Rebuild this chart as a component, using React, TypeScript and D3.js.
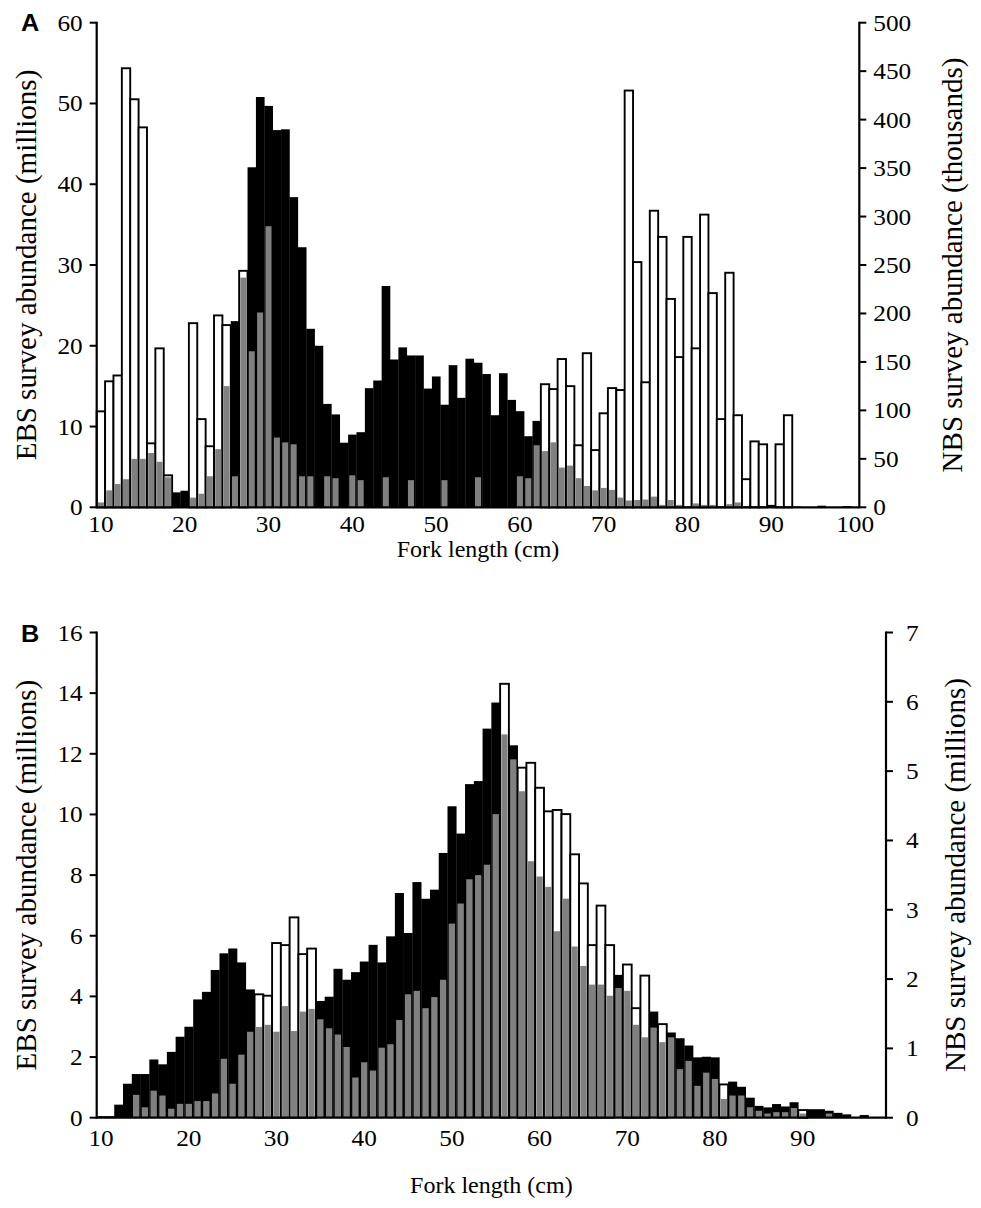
import React from 'react';
import * as d3 from 'd3';

// ---------- Panel A : bins 10..100 cm ----------
const binsA: number[] = d3.range(10, 101);
// EBS survey abundance (millions) - black bars, left axis
const ebsA: number[] = [
  0, 0, 0, 0, 0, 0, 0, 0, 0, 1.85,
  2.05, 0, 0, 0, 0, 0, 23.05, 0, 42.1, 50.8,
  49.7, 46.7, 46.8, 38.4, 32.2, 22.1, 20.0, 12.8, 11.5, 8.0,
  9.0, 9.3, 14.75, 15.7, 27.4, 18.3, 19.8, 18.8, 18.8, 14.7,
  16.2, 12.7, 17.6, 13.55, 18.4, 17.9, 16.5, 11.4, 16.6, 13.3,
  11.9, 8.8, 10.7, 0, 0, 0, 0, 0, 0, 0,
  0, 0, 0, 0, 0, 0, 0, 0, 0, 0,
  0, 0, 0, 0, 0, 0, 0, 0, 0, 0,
  0.3, 0, 0, 0.1, 0, 0, 0.2, 0, 0, 0.15,
  0,
];
// NBS survey abundance (thousands) - white bars, right axis
const nbsWhiteA: number[] = [
  99, 130, 136, 453, 421, 392, 66, 164, 33, 0,
  0, 190, 91, 63, 198, 188, 0, 244, 0, 0,
  0, 0, 0, 0, 0, 0, 0, 0, 0, 0,
  0, 0, 0, 0, 0, 0, 0, 0, 0, 0,
  0, 0, 0, 0, 0, 0, 0, 0, 0, 0,
  0, 0, 0, 127, 122, 153, 125, 64, 159, 59,
  97, 123, 121, 430, 253, 129, 306, 279, 215, 155,
  279, 164, 302, 221, 91, 242, 95, 29, 68, 65,
  0, 65, 95, 0, 0, 0, 0, 0, 0, 0,
  0,
];
// NBS survey abundance (thousands) - grey bars, right axis
const nbsGreyA: number[] = [
  5, 17.5, 24, 29, 50, 50, 56, 47, 31, 0,
  0, 10, 14, 32, 60, 125, 32, 237, 161, 201,
  290, 72, 67, 65, 32, 32, 0, 32, 30, 0,
  33, 28, 0, 0, 31, 0, 0, 28, 0, 0,
  0, 28, 0, 0, 0, 31, 0, 0, 0, 0,
  32, 30, 64, 58, 67, 41, 43, 30, 22, 17.5,
  20, 18, 10, 7, 7.5, 8, 11, 2.5, 7.5, 2.5,
  1.2, 4, 2.5, 2.5, 0, 3.3, 5, 0, 0, 0,
  0, 0, 0, 0, 0, 0, 0, 0, 0, 0,
  0,
];
const leftTicksA: number[] = [0, 10, 20, 30, 40, 50, 60];
const rightTicksA: number[] = [0, 50, 100, 150, 200, 250, 300, 350, 400, 450, 500];
const xLabelsA: number[] = [10, 20, 30, 40, 50, 60, 70, 80, 90, 100];

// ---------- Panel B : bins 10..99 cm ----------
const binsB: number[] = d3.range(10, 100);
const ebsB: number[] = [
  0.05, 0.05, 0.43, 1.12, 1.44, 1.44, 1.92, 1.76, 2.17, 2.67,
  3.0, 3.9, 4.15, 4.87, 5.42, 5.58, 5.12, 4.23, 0, 0,
  0, 0, 0, 0, 0, 3.85, 3.99, 4.91, 4.55, 4.8,
  5.15, 5.7, 5.12, 5.98, 7.41, 6.09, 7.77, 7.22, 7.52, 8.73,
  10.27, 9.37, 11.0, 11.1, 12.83, 13.69, 0, 12.28, 0, 0,
  0, 0, 0, 0, 0, 0, 0, 0, 0, 4.71,
  0, 0, 0, 3.5, 0, 2.81, 2.62, 2.38, 1.99, 2.01,
  1.99, 0, 1.19, 1.02, 0.66, 0.39, 0.34, 0.45, 0.37, 0.51,
  0, 0.28, 0.28, 0.23, 0.16, 0.11, 0, 0.09, 0, 0,
];
const nbsWhiteB: number[] = [
  0, 0, 0, 0, 0, 0, 0, 0, 0, 0,
  0, 0, 0, 0, 0, 0, 0, 0, 1.78, 1.76,
  2.52, 2.49, 2.89, 2.36, 2.44, 0, 0, 0, 0, 0,
  0, 0, 0, 0, 0, 0, 0, 0, 0, 0,
  0, 0, 0, 0, 0, 0, 6.26, 0, 5.05, 5.12,
  4.76, 4.42, 4.44, 4.38, 3.8, 3.38, 2.49, 3.06, 2.49, 0,
  2.21, 1.58, 2.05, 0, 1.35, 0, 0, 0, 0, 0,
  0, 0.48, 0, 0, 0, 0, 0, 0, 0, 0,
  0.11, 0, 0, 0, 0, 0, 0, 0, 0, 0,
];
const nbsGreyB: number[] = [
  0, 0, 0, 0, 0.33, 0.15, 0.39, 0.32, 0.13, 0.2,
  0.2, 0.24, 0.24, 0.35, 0.85, 0.49, 0.91, 1.24, 1.31, 1.34,
  1.24, 1.61, 1.25, 1.53, 1.57, 1.42, 1.29, 1.2, 1.02, 0.58,
  0.8, 0.68, 1.01, 1.06, 1.41, 1.78, 1.83, 1.58, 1.74, 1.99,
  2.8, 3.09, 3.44, 3.5, 3.65, 4.38, 5.53, 5.17, 4.71, 3.7,
  3.48, 3.33, 2.69, 3.16, 2.47, 2.19, 1.92, 1.92, 1.76, 1.87,
  1.83, 1.34, 1.16, 1.3, 1.09, 1.16, 0.7, 0.82, 0.46, 0.65,
  0.56, 0.27, 0.32, 0.32, 0.15, 0.1, 0.06, 0.08, 0.08, 0.14,
  0.06, 0, 0, 0.06, 0, 0, 0, 0, 0, 0,
];
const leftTicksB: number[] = [0, 2, 4, 6, 8, 10, 12, 14, 16];
const rightTicksB: number[] = [0, 1, 2, 3, 4, 5, 6, 7];
const xLabelsB: number[] = [10, 20, 30, 40, 50, 60, 70, 80, 90];

const FONT = "'Liberation Serif', 'Times New Roman', serif";
const SX = 1.1;

type PanelCfg = {
  letter: string;
  bins: number[];
  black: number[];
  white: number[];
  grey: number[];
  leftMax: number;
  rightMax: number;
  leftTicks: number[];
  rightTicks: number[];
  xLabels: number[];
  leftTitle: string;
  rightTitle: string;
  left: number;
  right: number;
  top: number;
  bottom: number;
  rightLabelGap: number;
  rightTitleX: number;
  xLabelDy: number;
  xTitleDy: number;
  letterY: number;
};

function Panel({ c }: { c: PanelCfg }) {
  const x = d3.scaleBand<number>().domain(c.bins).range([c.left, c.right]).padding(0);
  const yL = d3.scaleLinear().domain([0, c.leftMax]).range([c.bottom, c.top]);
  const yR = d3.scaleLinear().domain([0, c.rightMax]).range([c.bottom, c.top]);
  const bw = x.bandwidth();
  const gw = bw * 0.72;
  const midY = (c.top + c.bottom) / 2;
  const midX = (c.left + c.right) / 2;
  return (
    <g>
      {c.bins.map((b, i) =>
        c.black[i] > 0 ? (
          <rect key={'k' + b} x={x(b)} y={yL(c.black[i])} width={bw + 0.3} height={c.bottom - yL(c.black[i])} fill="#000" />
        ) : null
      )}
      {c.bins.map((b, i) =>
        c.white[i] > 0 ? (
          <rect key={'w' + b} x={x(b)} y={yR(c.white[i])} width={bw} height={c.bottom - yR(c.white[i])} fill="#fff" stroke="#000" strokeWidth={1.9} />
        ) : null
      )}
      {c.bins.map((b, i) =>
        c.grey[i] > 0 ? (
          <rect key={'g' + b} x={(x(b) as number) + (bw - gw) / 2} y={yR(c.grey[i])} width={gw} height={c.bottom - yR(c.grey[i])} fill="#808080" />
        ) : null
      )}
      <line x1={c.left} x2={c.left} y1={c.top - 1} y2={c.bottom + 1} stroke="#000" strokeWidth={2.2} />
      <line x1={c.right} x2={c.right} y1={c.top - 1} y2={c.bottom + 1} stroke="#000" strokeWidth={2.2} />
      <line x1={c.left} x2={c.right} y1={c.bottom} y2={c.bottom} stroke="#000" strokeWidth={2.2} />
      {c.leftTicks.map((t) => (
        <g key={'lt' + t}>
          <line x1={c.left - 7} x2={c.left} y1={yL(t)} y2={yL(t)} stroke="#000" strokeWidth={2} />
          <text transform={`translate(${c.left - 14},${yL(t) + 8}) scale(${SX},1)`} textAnchor="end" fontSize={23} fontFamily={FONT}>
            {t}
          </text>
        </g>
      ))}
      {c.rightTicks.map((t) => (
        <g key={'rt' + t}>
          <line x1={c.right} x2={c.right + 7} y1={yR(t)} y2={yR(t)} stroke="#000" strokeWidth={2} />
          <text transform={`translate(${c.right + c.rightLabelGap},${yR(t) + 8}) scale(${SX},1)`} textAnchor="start" fontSize={23} fontFamily={FONT}>
            {t}
          </text>
        </g>
      ))}
      {c.xLabels.map((t) => (
        <text key={'xl' + t} transform={`translate(${(x(t) as number) + bw / 2},${c.bottom + c.xLabelDy}) scale(${SX},1)`} textAnchor="middle" fontSize={23} fontFamily={FONT}>
          {t}
        </text>
      ))}
      <text transform={`translate(${midX},${c.bottom + c.xTitleDy})`} textAnchor="middle" fontSize={24} fontFamily={FONT}>
        Fork length (cm)
      </text>
      <text transform={`translate(${35.5},${midY}) rotate(-90)`} textAnchor="middle" fontSize={29} fontFamily={FONT}>
        {c.leftTitle}
      </text>
      <text transform={`translate(${c.rightTitleX},${midY}) rotate(-90)`} textAnchor="middle" fontSize={29} fontFamily={FONT}>
        {c.rightTitle}
      </text>
      <text transform={`translate(21,${c.letterY}) scale(${SX},1)`} fontSize={23} fontWeight="bold" fontFamily="'Liberation Sans', Arial, sans-serif">
        {c.letter}
      </text>
    </g>
  );
}

const panelA: PanelCfg = {
  letter: 'A',
  bins: binsA,
  black: ebsA,
  white: nbsWhiteA,
  grey: nbsGreyA,
  leftMax: 60,
  rightMax: 500,
  leftTicks: leftTicksA,
  rightTicks: rightTicksA,
  xLabels: xLabelsA,
  leftTitle: 'EBS survey abundance (millions)',
  rightTitle: 'NBS survey abundance (thousands)',
  left: 96.7,
  right: 859.3,
  top: 22.7,
  bottom: 507.3,
  rightLabelGap: 14,
  rightTitleX: 962,
  xLabelDy: 25,
  xTitleDy: 50,
  letterY: 31,
};

const panelB: PanelCfg = {
  letter: 'B',
  bins: binsB,
  black: ebsB,
  white: nbsWhiteB,
  grey: nbsGreyB,
  leftMax: 16,
  rightMax: 7,
  leftTicks: leftTicksB,
  rightTicks: rightTicksB,
  xLabelDy: 28,
  xTitleDy: 75,
  xLabels: xLabelsB,
  leftTitle: 'EBS survey abundance (millions)',
  rightTitle: 'NBS survey abundance (millions)',
  left: 96.7,
  right: 886,
  top: 632.5,
  bottom: 1117.7,
  rightLabelGap: 20,
  rightTitleX: 965,
  letterY: 642,
};

export default function App() {
  return (
    <svg width={981} height={1208} style={{ position: 'absolute', left: 0, top: 0, background: '#fff' }}>
      <rect x={0} y={0} width={981} height={1208} fill="#fff" />
      <Panel c={panelA} />
      <Panel c={panelB} />
    </svg>
  );
}
